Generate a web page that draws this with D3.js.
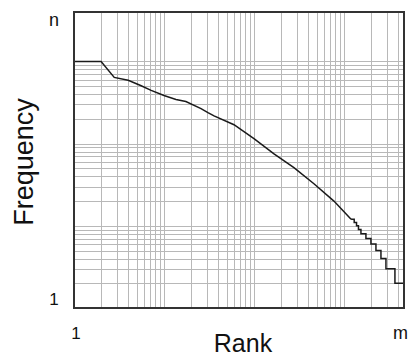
<!DOCTYPE html>
<html>
<head>
<meta charset="utf-8">
<script src="https://cdn.jsdelivr.net/npm/d3@7"></script>
<style>
    html, body { margin: 0; padding: 0; background: #fff; }
    svg { display: block; font-family: "Liberation Sans", Arial, sans-serif; }
</style>
</head>
<body>
<svg id="chart" width="408" height="358"></svg>
<script>
// Axis extents (log scales)
const rankDomain = [1, 4650];
const freqDomain = [1, 4000];
const freqGridMax = 1000;

// Tick labels
const rankLabels = ['1', 'm'];
const freqLabels = ['1', 'n'];

// Smooth head of the rank/frequency curve
const headRanks = [1, 2, 2.8, 4, 5.5, 7.2, 10, 13.6, 17.5, 25.8, 30.8, 36, 60, 100, 167, 278, 464, 774, 1200];
const headFreqs = [1000, 1000, 640, 590, 510, 445, 385, 345, 325, 267, 239, 218, 170, 115, 75, 51, 32.5, 20, 12];

// Stepped tail (integer frequencies)
const tailRanks = [1200, 1300, 1380, 1450, 1545, 1755, 1995, 2268, 2578, 2929, 3687, 4650];
const tailFreqs = [12, 11, 10, 9, 8, 7, 6, 5, 4, 3, 2, 2];

const margin = { top: 12, right: 4, bottom: 50, left: 74 };
const width = 408;
const height = 358;

const svg = d3.select('#chart');

const x = d3.scaleLog()
    .domain(rankDomain)
    .range([margin.left, width - margin.right]);

const y = d3.scaleLog()
    .domain(freqDomain)
    .range([height - margin.bottom, margin.top]);

// Log grid values: 1..9 x 10^k
function logGrid(lo, hi) {
    const vals = [];
    for (let p = 1; p <= hi; p *= 10) {
        for (let k = 1; k <= 9; k++) {
            const v = k * p;
            if (v > lo && v < hi) vals.push(v);
        }
    }
    return vals;
}

const grid = svg.append('g')
    .attr('stroke', '#b8b8b8')
    .attr('stroke-width', 1)
    .attr('shape-rendering', 'crispEdges');

grid.selectAll('line.v')
    .data(logGrid(rankDomain[0], rankDomain[1]))
    .enter().append('line')
    .attr('class', 'v')
    .attr('x1', d => Math.round(x(d)) + 0.5)
    .attr('x2', d => Math.round(x(d)) + 0.5)
    .attr('y1', y.range()[1])
    .attr('y2', y.range()[0]);

grid.selectAll('line.h')
    .data(logGrid(freqDomain[0], freqGridMax + 1))
    .enter().append('line')
    .attr('class', 'h')
    .attr('y1', d => Math.round(y(d)) + 0.5)
    .attr('y2', d => Math.round(y(d)) + 0.5)
    .attr('x1', x.range()[0])
    .attr('x2', x.range()[1]);

// Curve
const head = headRanks.map((r, i) => [r, headFreqs[i]]);
const tail = tailRanks.map((r, i) => [r, tailFreqs[i]]);

svg.append('path')
    .datum(head)
    .attr('fill', 'none')
    .attr('stroke', '#1a1a1a')
    .attr('stroke-width', 1.5)
    .attr('d', d3.line().x(d => x(d[0])).y(d => y(d[1])));

svg.append('path')
    .datum(tail)
    .attr('fill', 'none')
    .attr('stroke', '#1a1a1a')
    .attr('stroke-width', 1.5)
    .attr('d', d3.line().curve(d3.curveStepAfter).x(d => x(d[0])).y(d => y(d[1])));

// Plot frame
svg.append('rect')
    .attr('x', x.range()[0])
    .attr('y', y.range()[1])
    .attr('width', x.range()[1] - x.range()[0])
    .attr('height', y.range()[0] - y.range()[1])
    .attr('fill', 'none')
    .attr('stroke', '#333')
    .attr('stroke-width', 2);

// Tick labels
svg.append('text')
    .attr('x', 54)
    .attr('y', y(freqDomain[1]) + 14)
    .attr('text-anchor', 'middle')
    .style('font-size', '18px')
    .style('fill', '#111')
    .text(freqLabels[1]);

svg.append('text')
    .attr('x', 54)
    .attr('y', y(freqDomain[0]) - 3)
    .attr('text-anchor', 'middle')
    .style('font-size', '17px')
    .style('fill', '#111')
    .text(freqLabels[0]);

svg.append('text')
    .attr('x', x(rankDomain[0]) + 2)
    .attr('y', 339)
    .attr('text-anchor', 'middle')
    .style('font-size', '17px')
    .style('fill', '#111')
    .text(rankLabels[0]);

svg.append('text')
    .attr('x', 393)
    .attr('y', 339)
    .attr('text-anchor', 'start')
    .style('font-size', '18px')
    .style('fill', '#111')
    .text(rankLabels[1]);

// Axis titles
svg.append('text')
    .attr('x', (x.range()[0] + x.range()[1]) / 2 + 4)
    .attr('y', 352)
    .attr('text-anchor', 'middle')
    .style('font-size', '25px')
    .style('fill', '#111')
    .text('Rank');

svg.append('text')
    .attr('transform', `translate(33, 162) rotate(-90)`)
    .attr('text-anchor', 'middle')
    .style('font-size', '27px')
    .style('fill', '#111')
    .text('Frequency');
</script>
</body>
</html>
